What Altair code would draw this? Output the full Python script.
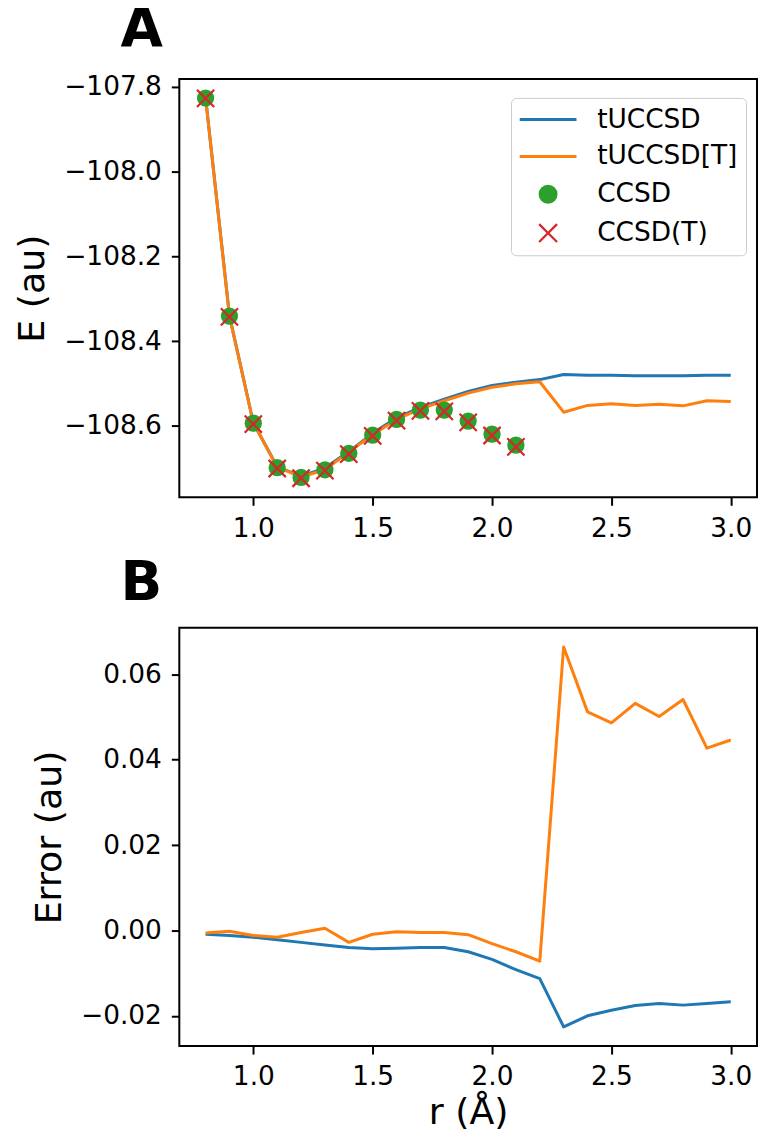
import altair as alt
import pandas as pd

# ---------------- data ----------------
r_all = [0.8, 0.9, 1.0, 1.1, 1.2, 1.3, 1.4, 1.5, 1.6, 1.7, 1.8, 1.9,
         2.0, 2.1, 2.2, 2.3, 2.4, 2.5, 2.6, 2.7, 2.8, 2.9, 3.0]

e_tuccsd = [-107.825, -108.340, -108.593, -108.697, -108.719, -108.700,
            -108.661, -108.618, -108.581, -108.557, -108.537, -108.519,
            -108.505, -108.497, -108.491, -108.479, -108.481, -108.481,
            -108.482, -108.482, -108.482, -108.481, -108.481]

e_tuccsd_t = [-107.825, -108.341, -108.593, -108.698, -108.721, -108.704,
              -108.662, -108.621, -108.585, -108.560, -108.541, -108.523,
              -108.509, -108.501, -108.496, -108.568, -108.552, -108.548,
              -108.552, -108.549, -108.553, -108.541, -108.543]

r_cc = [0.8, 0.9, 1.0, 1.1, 1.2, 1.3, 1.4, 1.5, 1.6, 1.7, 1.8, 1.9, 2.0, 2.1]

e_ccsd = [-107.826, -108.341, -108.594, -108.699, -108.722, -108.704,
          -108.665, -108.622, -108.585, -108.563, -108.563, -108.589,
          -108.620, -108.646]

e_ccsd_t = [-107.827, -108.343, -108.596, -108.701, -108.724, -108.706,
            -108.667, -108.624, -108.588, -108.565, -108.566, -108.592,
            -108.623, -108.650]

err_tuccsd = [-0.0009, -0.0012, -0.0016, -0.0022, -0.0028, -0.0034,
              -0.0040, -0.0043, -0.0042, -0.0040, -0.0040, -0.0050,
              -0.0068, -0.0092, -0.0113, -0.0226, -0.0200, -0.0187,
              -0.0176, -0.0171, -0.0175, -0.0171, -0.0167]

err_tuccsd_t = [-0.0006, -0.0002, -0.0012, -0.0016, -0.0005, 0.0005,
                -0.0028, -0.0009, -0.0003, -0.0005, -0.0005, -0.0010,
                -0.0031, -0.0050, -0.0072, 0.0664, 0.0512, 0.0486,
                0.0532, 0.0501, 0.0541, 0.0427, 0.0446]

series_names = ["tUCCSD", "tUCCSD[T]", "CCSD", "CCSD(T)"]
series_colors = ["#1f77b4", "#ff7f0e", "#2ca02c", "#d62728"]

x_ticks = [1.0, 1.5, 2.0, 2.5, 3.0]
e_ticks = [-108.6, -108.4, -108.2, -108.0, -107.8]
err_ticks = [-0.02, 0.0, 0.02, 0.04, 0.06]

# ---------------- tables ----------------
df_top = pd.DataFrame({
    "r": r_all + r_all,
    "E": e_tuccsd + e_tuccsd_t,
    "method": [series_names[0]] * len(r_all) + [series_names[1]] * len(r_all),
})
df_ccsd = pd.DataFrame({"r": r_cc, "E": e_ccsd})
df_ccsdt = pd.DataFrame({"r": r_cc, "E": e_ccsd_t})
df_err = pd.DataFrame({
    "r": r_all + r_all,
    "err": err_tuccsd + err_tuccsd_t,
    "method": [series_names[0]] * len(r_all) + [series_names[1]] * len(r_all),
})

FONT = "DejaVu Sans"
XPATH = "M-1,-1L1,1M1,-1L-1,1"
PANEL_W = 580
PANEL_H = 420

x_scale = alt.Scale(domain=[0.69, 3.11], nice=False, zero=False)
e_scale = alt.Scale(domain=[-108.769, -107.781], nice=False, zero=False)
err_scale = alt.Scale(domain=[-0.0271, 0.0709], nice=False, zero=False)


# legend symbol shapes (drawn inside a constant symbol box of 57 px)
def ring(a):
    return "M%.4f,0A%.4f,%.4f 0 1,1 %.4f,0A%.4f,%.4f 0 1,1 %.4f,0Z" % (a, a, a, -a, a, a, a)


LEG_DOT = ring(0.2807) + ring(0.1754) + ring(0.0702)
LEG_X = "M-0.316,-0.316L0.316,0.316M0.316,-0.316L-0.316,0.316"

SHAPE = ("datum.value === 'CCSD' ? '" + LEG_DOT + "' : datum.value === 'CCSD(T)' ? '"
         + LEG_X + "' : 'stroke'")
SW = "datum.value === 'CCSD(T)' ? 2.2 : 3"
FILL = "datum.value === 'CCSD' ? '#2ca02c' : 'transparent'"

legend_top = alt.Legend(
    orient="none", legendX=333, legendY=19, title=None,
    fillColor="white", strokeColor="#cccccc", cornerRadius=5, padding=8.5,
    labelFont=FONT, labelFontSize=26.5, labelColor="black", labelOffset=36,
    labelLimit=400, labelExpr="datum.label + '\u2009'",
    symbolType={"expr": SHAPE},
    symbolSize=3249,
    symbolOffset=15.5,
    symbolStrokeWidth={"expr": SW},
    symbolFillColor={"expr": FILL},
    symbolOpacity=1,
    rowPadding=10,
)

x_top = alt.X("r:Q", scale=x_scale,
              axis=alt.Axis(values=x_ticks, format=".1f", title=None, labelFlush=False))
y_top = alt.Y("E:Q", scale=e_scale,
              axis=alt.Axis(values=e_ticks, format=".1f", title="E (au)"))

lines_top = alt.Chart(df_top).mark_line(strokeWidth=3, strokeJoin="round").encode(
    x=x_top, y=y_top,
    color=alt.Color("method:N", scale=alt.Scale(domain=series_names, range=series_colors),
                    legend=legend_top),
)
pts_ccsd = alt.Chart(df_ccsd).mark_point(
    shape="circle", filled=True, size=300, color=series_colors[2], opacity=1
).encode(x=x_top, y=y_top)
pts_ccsdt = alt.Chart(df_ccsdt).mark_point(
    shape=XPATH, filled=False, size=300, color=series_colors[3], opacity=1, strokeWidth=2.2
).encode(x=x_top, y=y_top)

TITLE_KW = dict(anchor="start", frame="group", fontSize=55, fontWeight="bold",
                font=FONT, color="black", dx=-59, offset=-27, baseline="alphabetic")

top = alt.layer(lines_top, pts_ccsd, pts_ccsdt).properties(
    width=PANEL_W, height=PANEL_H,
    title=alt.TitleParams("A", **TITLE_KW),
)

x_bot = alt.X("r:Q", scale=x_scale,
              axis=alt.Axis(values=x_ticks, format=".1f", title="r (Å)",
                            labelFlush=False, titlePadding=4))
y_bot = alt.Y("err:Q", scale=err_scale,
              axis=alt.Axis(values=err_ticks, format=".2f", title="Error (au)"))

bottom = alt.Chart(df_err).mark_line(strokeWidth=3, strokeJoin="round").encode(
    x=x_bot, y=y_bot,
    color=alt.Color("method:N", scale=alt.Scale(domain=series_names[:2], range=series_colors[:2]),
                    legend=None),
).properties(
    width=PANEL_W, height=PANEL_H,
    title=alt.TitleParams("B", **TITLE_KW),
)

chart = alt.vconcat(top, bottom, spacing=131, bounds="flush").resolve_scale(
    color="independent"
).properties(
    padding={"left": 5, "top": -9, "right": 0, "bottom": 0},
).configure_view(
    stroke="black", strokeWidth=2
).configure_axis(
    domain=False, grid=False,
    labelFont=FONT, labelFontSize=26.5, labelColor="black", labelPadding=10,
    tickColor="black", tickSize=8, tickWidth=2,
    titleFont=FONT, titleFontSize=36.5, titleFontWeight="normal", titleColor="black",
    titlePadding=12,
)

chart.save("out.html", embed_options={"renderer": "svg", "actions": False})
